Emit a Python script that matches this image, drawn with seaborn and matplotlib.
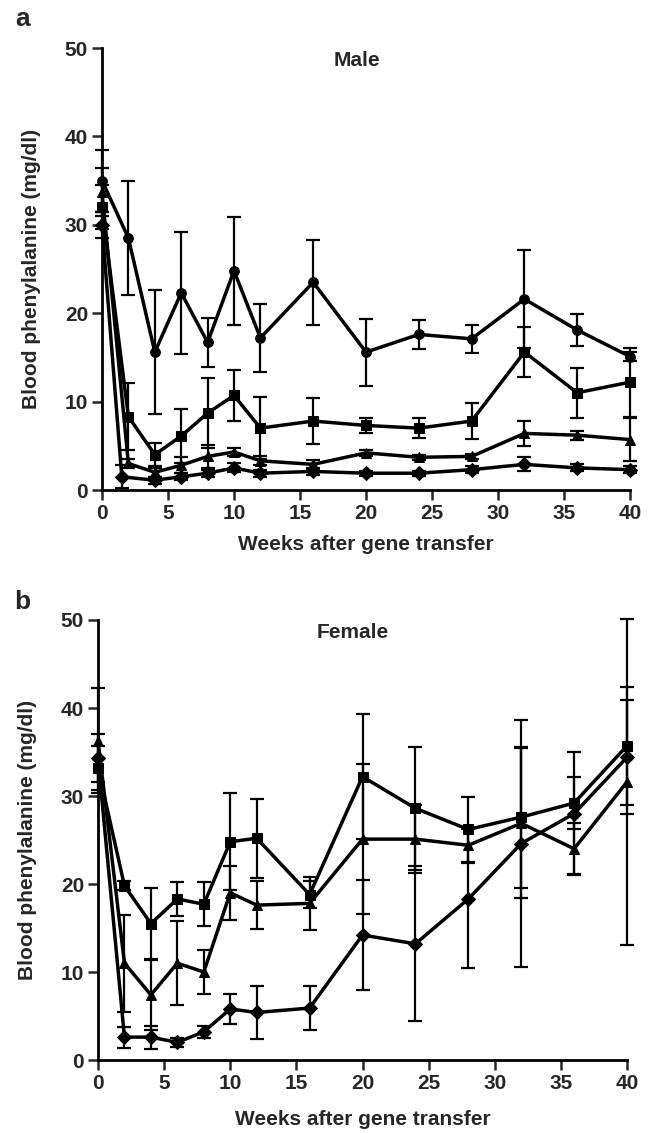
import numpy as np
import pandas as pd
import seaborn as sns
import matplotlib
matplotlib.use("Agg")
import matplotlib.pyplot as plt

# ---------------- data ----------------
weeks = [0, 2, 4, 6, 8, 10, 12, 16, 20, 24, 28, 32, 36, 40]
weeks_a_diamond = [0, 1.5, 4, 6, 8, 10, 12, 16, 20, 24, 28, 32, 36, 40]

male_circle = [35.0, 28.5, 15.6, 22.3, 16.7, 24.8, 17.2, 23.5, 15.6, 17.6, 17.1, 21.6, 18.1, 15.1]
male_circle_err = [3.5, 6.4, 7.0, 6.9, 2.8, 6.1, 3.8, 4.8, 3.8, 1.6, 1.6, 5.5, 1.8, 0.5]
male_square = [32.0, 8.3, 4.0, 6.1, 8.7, 10.7, 7.0, 7.8, 7.3, 7.0, 7.8, 15.6, 11.0, 12.2]
male_square_err = [2.5, 3.8, 1.3, 3.1, 4.0, 2.9, 3.5, 2.6, 0.8, 1.1, 2.0, 2.8, 2.8, 3.9]
male_triangle = [33.7, 3.0, 2.0, 2.8, 3.8, 4.3, 3.3, 2.9, 4.2, 3.7, 3.8, 6.4, 6.2, 5.7]
male_triangle_err = [2.7, 0.5, 0.5, 0.9, 1.3, 0.5, 0.5, 0.5, 0.3, 0.3, 0.3, 1.4, 0.5, 2.4]
male_diamond = [30.0, 1.5, 1.1, 1.5, 1.9, 2.5, 1.9, 2.1, 1.9, 1.9, 2.3, 2.9, 2.5, 2.3]
male_diamond_err = [1.5, 1.3, 0.4, 0.4, 0.4, 0.5, 0.4, 0.4, 0.3, 0.3, 0.4, 0.8, 0.4, 0.4]

female_square = [33.2, 19.8, 15.5, 18.3, 17.7, 24.8, 25.2, 18.8, 32.2, 28.6, 26.2, 27.6, 29.2, 35.7]
female_square_err = [2.5, 0.5, 4.0, 1.9, 2.5, 5.5, 4.5, 1.5, 7.1, 7.0, 3.7, 8.0, 3.0, 6.7]
female_triangle = [36.3, 11.0, 7.4, 11.0, 10.0, 19.0, 17.6, 17.8, 25.1, 25.1, 24.4, 26.9, 24.0, 31.6]
female_triangle_err = [6.0, 5.5, 4.0, 4.8, 2.5, 3.1, 2.7, 3.0, 8.5, 3.9, 2.0, 8.5, 2.9, 18.5]
female_diamond = [34.3, 2.6, 2.6, 2.0, 3.2, 5.8, 5.4, 5.9, 14.2, 13.2, 18.3, 24.6, 28.0, 34.4]
female_diamond_err = [2.7, 1.2, 1.3, 0.5, 0.7, 1.7, 3.0, 2.5, 6.3, 8.8, 7.9, 14.0, 7.0, 6.5]

x_ticks = [0, 5, 10, 15, 20, 25, 30, 35, 40]
y_ticks = [0, 10, 20, 30, 40, 50]
x_label = "Weeks after gene transfer"
y_label = "Blood phenylalanine (mg/dl)"

# ---------------- style ----------------
sns.set_style("ticks")
plt.rcParams['font.family'] = ['Liberation Sans', 'DejaVu Sans']

fig = plt.figure(figsize=(6.57, 11.33), dpi=100)
ax_a = fig.add_axes([102/657, 1-490/1133, (630-102)/657, (490-48)/1133])
ax_b = fig.add_axes([98/657, 1-1060/1133, (627-98)/657, (1060-620)/1133])

def make_df(series):
    rows = []
    for name, xs, ys in series:
        for x, y in zip(xs, ys):
            rows.append({"week": x, "value": y, "group": name})
    return pd.DataFrame(rows)

markers = {"circle": "o", "square": "s", "triangle": "^", "diamond": "D"}

def draw(ax, series, errs):
    df = make_df(series)
    groups = [s[0] for s in series]
    sns.lineplot(data=df, x="week", y="value", style="group", style_order=groups,
                 markers={g: markers[g] for g in groups}, dashes=False, color="black",
                 linewidth=2.5, markersize=7, markeredgecolor="black",
                 legend=False, ax=ax, clip_on=False, estimator=None, sort=False)
    for (name, xs, ys), e in zip(series, errs):
        ax.errorbar(xs, ys, yerr=e, fmt="none", ecolor="black", elinewidth=1.6,
                    capsize=5.2, capthick=1.6, clip_on=False)

draw(ax_a, [("circle", weeks, male_circle), ("square", weeks, male_square),
            ("triangle", weeks, male_triangle), ("diamond", weeks_a_diamond, male_diamond)],
     [male_circle_err, male_square_err, male_triangle_err, male_diamond_err])
draw(ax_b, [("square", weeks, female_square), ("triangle", weeks, female_triangle),
            ("diamond", weeks, female_diamond)],
     [female_square_err, female_triangle_err, female_diamond_err])

for ax, title, lab, xpad in [(ax_a, "Male", "a", 9), (ax_b, "Female", "b", 12)]:
    ax.set_xlim(0, 40)
    ax.set_ylim(0, 50)
    ax.set_xticks(x_ticks)
    ax.set_yticks(y_ticks)
    ax.set_xlabel(x_label, fontsize=15, fontweight='bold', labelpad=xpad)
    ax.set_ylabel(y_label, fontsize=15, fontweight='bold', labelpad=17)
    ax.tick_params(axis='both', labelsize=15, width=1.8, length=7, direction='out', pad=3)
    for t in ax.get_xticklabels() + ax.get_yticklabels():
        t.set_fontweight('bold')
    sns.despine(ax=ax)
    for sp in ["left", "bottom"]:
        ax.spines[sp].set_linewidth(2.0)
        ax.spines[sp].set_color("black")
    ax.text(19.3, 48.6, title, ha="center", va="center", fontsize=15, fontweight="bold")

fig.text(15/657, 1-19/1133, "a", fontsize=19, fontweight="bold", ha="left", va="center")
fig.text(14/657, 1-602/1133, "b", fontsize=19, fontweight="bold", ha="left", va="center")

fig.savefig("out.png", dpi=100)
